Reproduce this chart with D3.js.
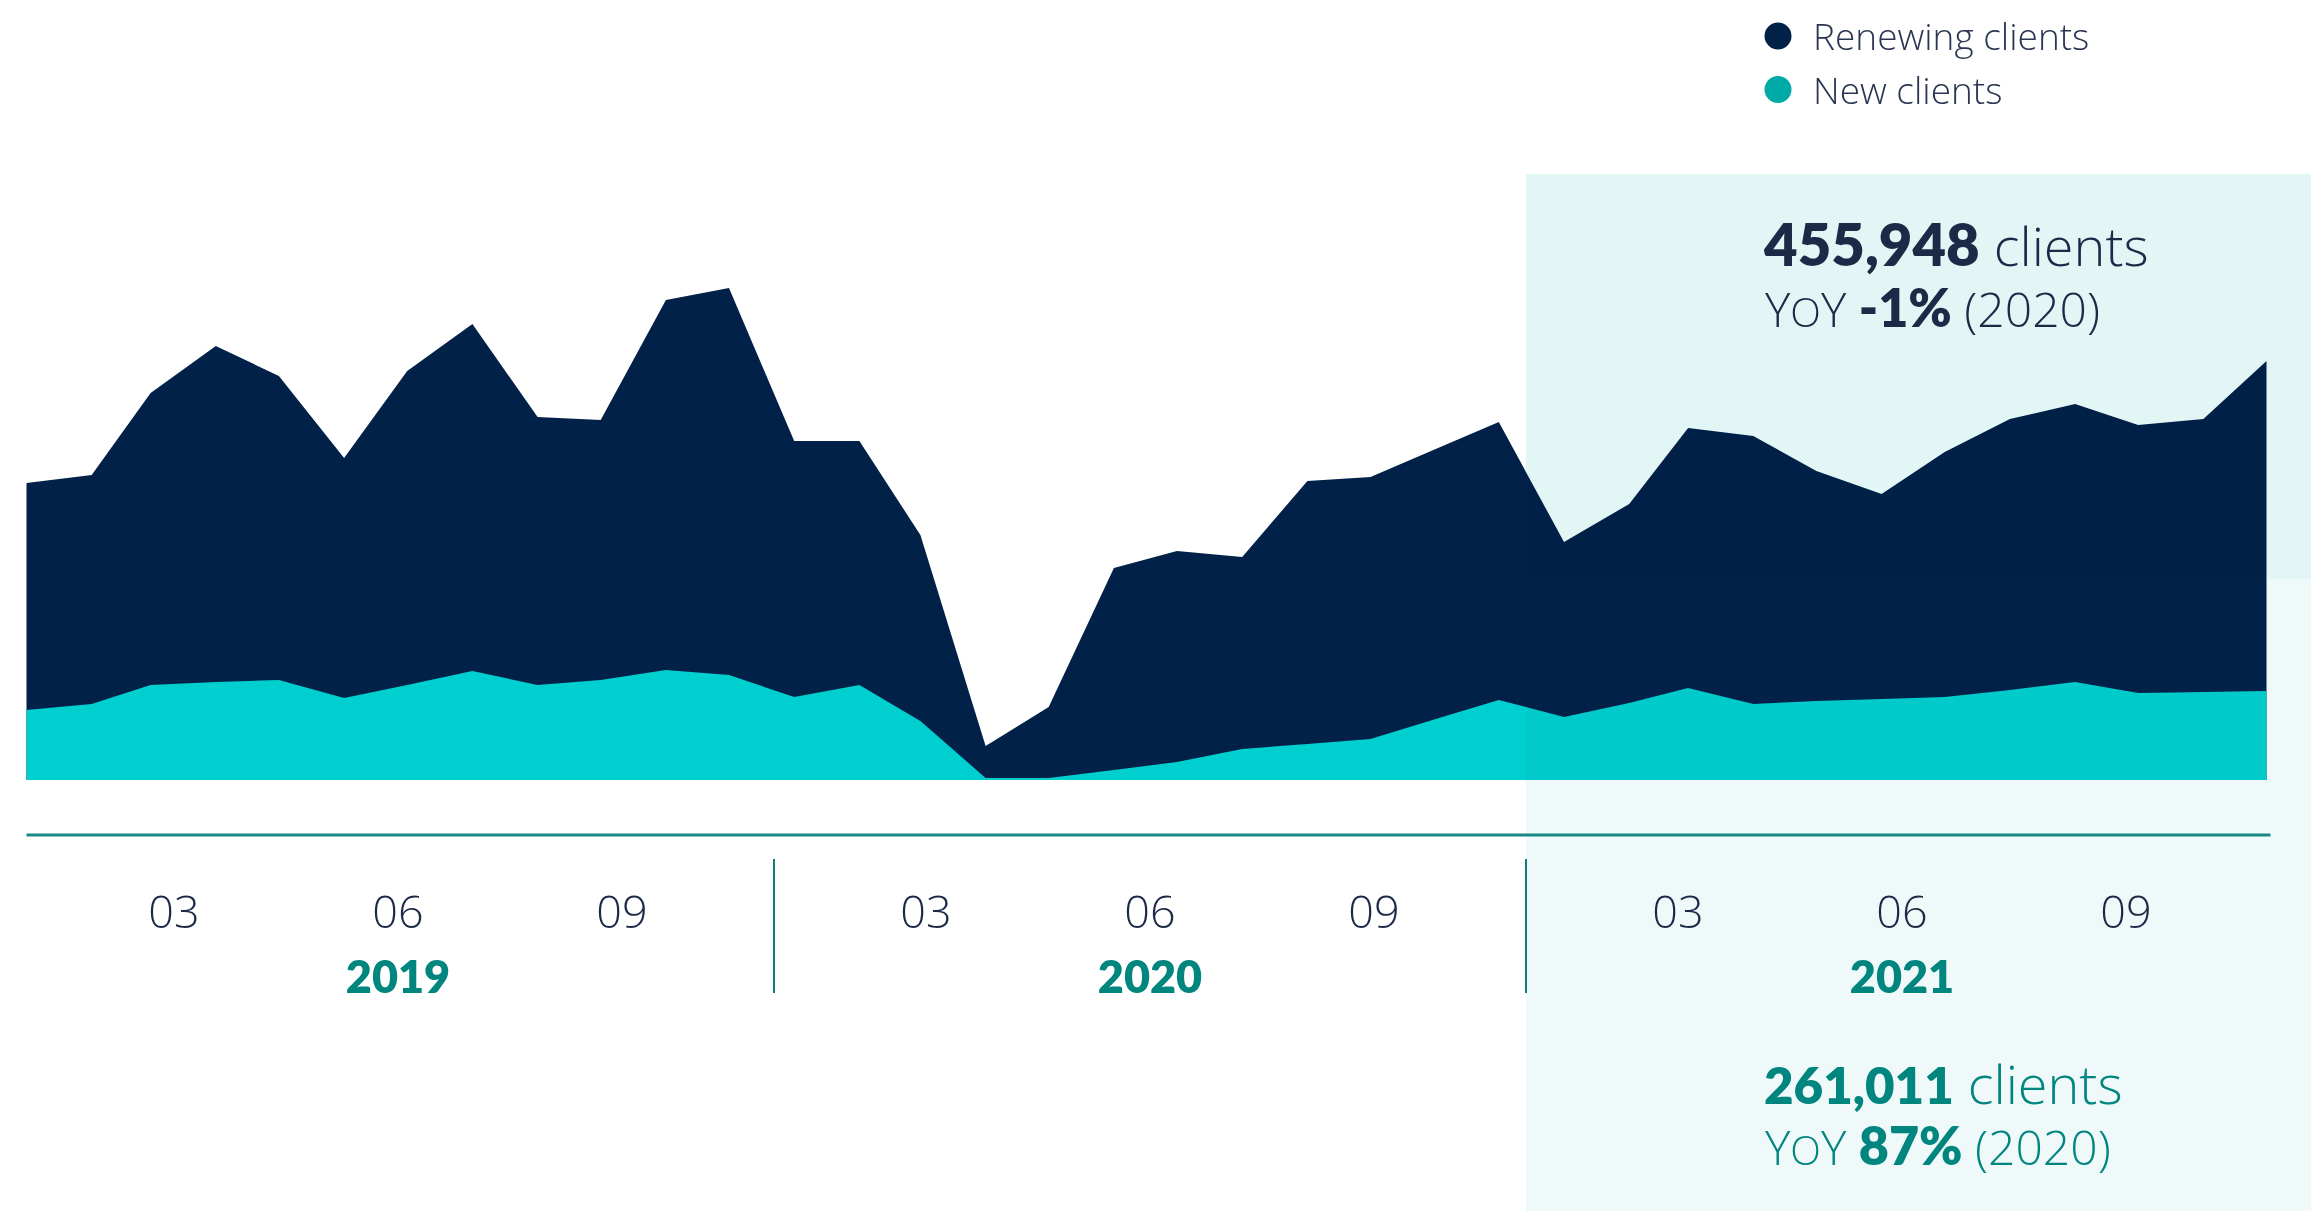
<!DOCTYPE html>
<html>
<head>
<meta charset="utf-8">
<script src="https://cdn.jsdelivr.net/npm/d3@7"></script>
<style>
  html, body { margin: 0; padding: 0; background: #ffffff; }
  svg { display: block; }
  .light { font-family: "Open Sans", "Noto Sans", sans-serif; font-weight: 300; }
  .bold  { font-family: "Lato", "Open Sans", sans-serif; font-weight: 800; }
</style>
</head>
<body>
<svg id="chart" width="2311" height="1211"></svg>
<script>
// ---- data ---------------------------------------------------------------
const years = ["2019", "2020", "2021"];
const quarterTicks = ["03", "06", "09"];
const firstMonth = new Date(2019, 0, 1);
const lastMonth = new Date(2021, 11, 1);

// monthly client counts (index, thousands), Jan 2019 .. Dec 2021
const newClients = [
  7.0, 7.6, 9.5, 9.8, 10.0, 8.2, 9.5, 10.9, 9.5, 10.0, 11.0, 10.5,
  8.3, 9.5, 5.9, 0.2, 0.2, 1.0, 1.8, 3.1, 3.6, 4.1, 6.1, 8.0,
  6.3, 7.7, 9.2, 7.6, 7.9, 8.1, 8.3, 9.0, 9.8, 8.7, 8.8, 8.9
];
const renewingClients = [
  22.7, 22.9, 29.2, 33.6, 30.4, 24.0, 31.4, 34.7, 26.8, 26.0, 37.0, 38.7,
  25.6, 24.4, 18.6, 3.2, 7.1, 20.2, 21.1, 19.2, 26.3, 26.2, 27.0, 27.8,
  17.5, 19.9, 26.0, 26.8, 23.0, 20.5, 24.5, 27.1, 27.8, 26.8, 27.3, 33.0
];

const seriesNames = ["Renewing clients", "New clients"];
const highlightYear = "2021";
const comparisonYear = "2020";
const renewingTotal = 455948;
const renewingYoY = -1;
const newTotal = 261011;
const newYoY = 87;

// ---- setup --------------------------------------------------------------
const W = 2311, H = 1211;
const navy = "#012149";
const teal = "#00cfcf";
const tealDot = "#00aaa7";
const tealDark = "#00857f";
const axisTeal = "#1a8883";
const inkDark = "#1c2a47";

const svg = d3.select("#chart");

const months = d3.timeMonth.range(firstMonth, d3.timeMonth.offset(lastMonth, 1));
const rows = months.map((m, i) => ({ month: m, new: newClients[i], renewing: renewingClients[i] }));

const x = d3.scaleTime().domain([firstMonth, lastMonth]).range([26.5, 2266.5]);
const y = d3.scaleLinear().domain([0, 50]).range([780, 280]);

const period = d3.scaleBand().domain(years).range([22, 2278]);

const stacked = d3.stack().keys(["new", "renewing"])(rows);
const area = d3.area()
  .x(d => x(d.data.month))
  .y0(d => y(d[0]))
  .y1(d => y(d[1]))
  .curve(d3.curveLinear);

// ---- areas --------------------------------------------------------------
// renewing drawn from the baseline up to the stacked top, new clients over it
svg.append("path")
  .attr("d", d3.area()
    .x(d => x(d.data.month))
    .y0(y(0))
    .y1(d => y(d[1]))(stacked[1]))
  .attr("fill", navy);

svg.append("path")
  .attr("d", area(stacked[0]))
  .attr("fill", teal);

// ---- highlighted year panel --------------------------------------------
const hx = period(highlightYear);
svg.append("rect")
  .attr("x", hx).attr("y", 174)
  .attr("width", W - hx).attr("height", 579 - 174)
  .attr("fill", "#e3f6f6")
  .style("mix-blend-mode", "multiply");
svg.append("rect")
  .attr("x", hx).attr("y", 579)
  .attr("width", W - hx).attr("height", H - 579)
  .attr("fill", "#eff9f9")
  .style("mix-blend-mode", "multiply");

// ---- axis ---------------------------------------------------------------
svg.append("line")
  .attr("x1", x.range()[0]).attr("x2", x.range()[1] + 4)
  .attr("y1", 835).attr("y2", 835)
  .attr("stroke", axisTeal).attr("stroke-width", 3);

years.slice(1).forEach(yr => {
  svg.append("line")
    .attr("x1", period(yr)).attr("x2", period(yr))
    .attr("y1", 859).attr("y2", 993)
    .attr("stroke", "#0d7f7b").attr("stroke-width", 2);
});

years.forEach(yr => {
  const q = d3.scalePoint()
    .domain(quarterTicks)
    .range([period(yr), period(yr) + period.bandwidth()])
    .padding(0.679);
  svg.append("g").selectAll("text")
    .data(quarterTicks)
    .join("text")
    .attr("class", "light")
    .attr("x", d => q(d))
    .attr("y", 928)
    .attr("text-anchor", "middle")
    .attr("font-size", 45)
    .attr("fill", inkDark)
    .text(d => d);
  svg.append("text")
    .attr("class", "bold")
    .attr("x", period(yr) + period.bandwidth() / 2)
    .attr("y", 993)
    .attr("text-anchor", "middle")
    .attr("font-size", 45)
    .attr("fill", tealDark)
    .text(yr);
});

// ---- legend -------------------------------------------------------------
const legend = svg.append("g").attr("transform", "translate(1778,36)");
[[seriesNames[0], navy], [seriesNames[1], tealDot]].forEach(([name, c], i) => {
  const row = legend.append("g").attr("transform", `translate(0,${i * 53.5})`);
  row.append("circle").attr("r", 13.5).attr("fill", c);
  row.append("text")
    .attr("class", "light")
    .attr("x", 35).attr("y", 14)
    .attr("font-size", 37)
    .attr("fill", "#2a3552")
    .text(name);
});

// ---- year summaries -----------------------------------------------------
const fmt = d3.format(",");
function summary(top, total, yoy, color, numSize) {
  const t1 = svg.append("text").attr("x", 1764).attr("y", top).attr("fill", color);
  t1.append("tspan").attr("class", "bold").attr("font-size", numSize).text(fmt(total));
  t1.append("tspan").attr("class", "light").attr("font-size", 54).text(" clients");

  const t2 = svg.append("text").attr("x", 1765).attr("y", top + 61).attr("fill", color);
  t2.append("tspan").attr("class", "light").attr("font-size", 48).text("Y");
  t2.append("tspan").attr("class", "light").attr("font-size", 40).text("O");
  t2.append("tspan").attr("class", "light").attr("font-size", 48).text("Y ");
  t2.append("tspan").attr("class", "bold").attr("font-size", 52).text(`${yoy}%`);
  t2.append("tspan").attr("class", "light").attr("font-size", 48).text(` (${comparisonYear})`);
}
summary(266, renewingTotal, renewingYoY, inkDark, 58);
summary(1104, newTotal, newYoY, tealDark, 51);
</script>
</body>
</html>
